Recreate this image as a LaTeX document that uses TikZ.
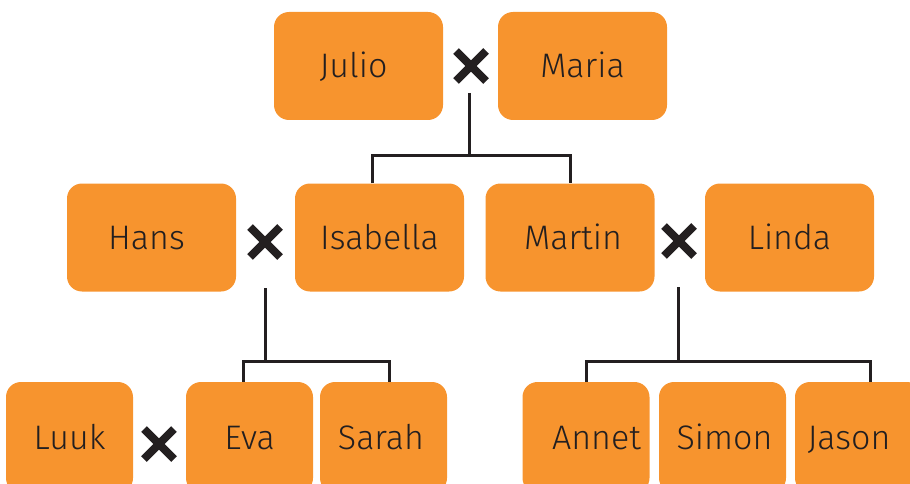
\documentclass[tikz,border=0pt]{standalone}
\usepackage{fontspec}
\setmainfont{Fira Sans}[UprightFont={* Light}]
\definecolor{boxorange}{HTML}{F7942E}
\definecolor{ink}{HTML}{231F20}
\begin{document}
\begin{tikzpicture}[x=1pt,y=-1pt,
  person/.style={rectangle, rounded corners=15pt, fill=boxorange, draw=none,
    minimum width=169pt, minimum height=108pt, inner sep=0pt,
    text height=23.5pt, text depth=0pt,
    text=ink, font=\fontsize{34}{40}\selectfont},
  small/.style={person, minimum width=127pt, minimum height=111pt},
  link/.style={draw=ink, line width=3pt},
  cross/.style={draw=ink, line width=8pt, line cap=butt}]
\clip (0,0) rectangle (910,484);
\useasboundingbox (0,0) rectangle (910,484);
% row 1
\node[person] (julio) at (358.5,66) {Julio\kern10pt};
\node[person] (maria) at (582.5,66) {Maria};
% row 2
\node[person] (hans) at (151.5,237.5) {Hans\kern10pt};
\node[person] (isabella) at (379.5,237.5) {Isabella};
\node[person] (martin) at (570,237.5) {\kern6pt Martin};
\node[person] (linda) at (789.5,237.5) {Linda};
% row 3
\node[small] (luuk) at (69.5,437.5) {Luuk};
\node[small] (eva) at (249.5,437.5) {Eva};
\node[small] (sarah) at (383.5,437.5) {\kern-5pt Sarah};
\node[small] (annet) at (586,437.5) {\kern21pt Annet};
\node[small] (simon) at (722.5,437.5) {\kern4pt Simon};
\node[small] (jason) at (858.5,437.5) {Jason\kern19pt};
% marriage crosses
\coordinate (m1) at (471,66);
\coordinate (m2) at (265,242);
\coordinate (m3) at (679,241);
\coordinate (m4) at (159,444);
\foreach \m in {m1,m2,m3,m4}{
  \draw[cross] ([shift={(-15,-15)}]\m) -- ([shift={(15,15)}]\m);
  \draw[cross] ([shift={(-15,15)}]\m) -- ([shift={(15,-15)}]\m);
}
% connectors
\coordinate (s1) at (469,93);
\coordinate (j1) at (469,155);
\coordinate (s2) at (265,288);
\coordinate (j2) at (265,361);
\coordinate (s3) at (678,287);
\coordinate (j3) at (678,361);
\draw[link] (s1) -- (j1);
\draw[link] (isabella.north -| 372,0) |- (j1) -| (martin.north);
\draw[link] (s2) -- (j2);
\draw[link] (eva.north -| 243,0) |- (j2) -| (sarah.north -| 389,0);
\draw[link] (s3) -- (j3);
\draw[link] (annet.north) |- (j3) -| (jason.north -| 870,0);
\draw[link] (simon.north -| 727,0) -- (simon.north -| 727,361);
\end{tikzpicture}
\end{document}
